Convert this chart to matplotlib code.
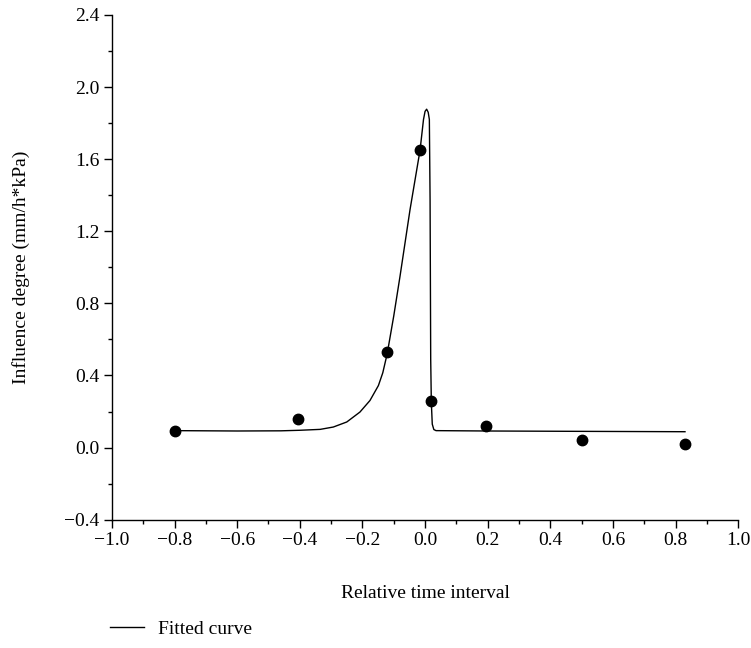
import matplotlib
matplotlib.use("Agg")
import matplotlib.pyplot as plt
from matplotlib.ticker import MultipleLocator, FuncFormatter

plt.rcParams['font.family'] = ['Liberation Serif', 'DejaVu Serif']
plt.rcParams['font.size'] = 14

# measured points
pt_x = [-0.80, -0.406, -0.121, -0.016, 0.019, 0.195, 0.50, 0.83]
pt_y = [0.094, 0.16, 0.53, 1.65, 0.26, 0.12, 0.04, 0.02]

# fitted curve
fit_x = [-0.80, -0.60, -0.46, -0.40, -0.335, -0.293, -0.250, -0.208, -0.176, -0.149,
         -0.135, -0.121, -0.100, -0.080, -0.048, -0.016, -0.005, 0.000, 0.005, 0.010,
         0.0137, 0.016, 0.018, 0.020, 0.023, 0.028, 0.035, 0.20, 0.50, 0.83]
fit_y = [0.094, 0.092, 0.093, 0.096, 0.101, 0.114, 0.142, 0.197, 0.261, 0.344,
         0.415, 0.52, 0.73, 0.95, 1.32, 1.65, 1.82, 1.865, 1.877, 1.86,
         1.82, 1.376, 0.49, 0.25, 0.13, 0.10, 0.094, 0.092, 0.090, 0.088]

fig = plt.figure(figsize=(7.51, 6.48), dpi=100)
ax = fig.add_axes([0.149, 0.198, 0.834, 0.779])

line, = ax.plot(fit_x, fit_y, color="black", lw=1.0, label="Fitted curve")
ax.plot(pt_x, pt_y, "o", color="black", markersize=7.5, linestyle="none")

ax.set_xlim(-1.0, 1.0)
ax.set_ylim(-0.4, 2.4)
ax.xaxis.set_major_locator(MultipleLocator(0.2))
ax.xaxis.set_minor_locator(MultipleLocator(0.1))
ax.yaxis.set_major_locator(MultipleLocator(0.4))
ax.yaxis.set_minor_locator(MultipleLocator(0.2))
fmt = FuncFormatter(lambda v, p: ("%.1f" % v).replace("-", "\u2212") if abs(v) > 1e-9 else "0.0")
ax.xaxis.set_major_formatter(fmt)
ax.yaxis.set_major_formatter(fmt)

for s in ["top", "right"]:
    ax.spines[s].set_visible(False)
for s in ["left", "bottom"]:
    ax.spines[s].set_linewidth(1.0)

ax.tick_params(which="major", direction="out", length=6, width=1.0, pad=3)
ax.tick_params(which="minor", direction="out", length=3, width=1.0)

ax.set_xlabel("Relative time interval")
ax.set_ylabel("Influence degree (mm/h*kPa)")
ax.xaxis.set_label_coords(0.5, -0.13)
ax.yaxis.set_label_coords(-0.13, 0.5)

fig.legend(handles=[line], loc="lower left", bbox_to_anchor=(0.123, -0.012),
           frameon=False, handlelength=1.75, handletextpad=0.7)

fig.savefig("out.png", dpi=100)
